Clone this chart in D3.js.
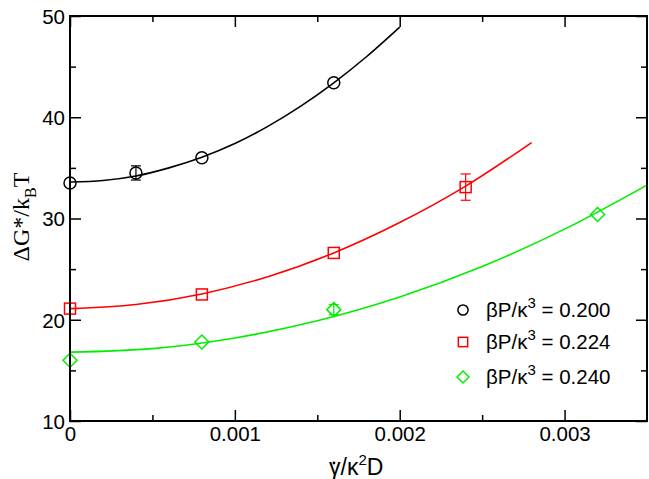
<!DOCTYPE html>
<html><head><meta charset="utf-8">
<script src="https://cdn.jsdelivr.net/npm/d3@7"></script>
<style>
body{margin:0;background:#fff;}
svg{display:block;font-family:"Liberation Sans",Arial,sans-serif;}
</style></head><body>
<svg id="c" width="649" height="479"></svg>
<script>
// ---- data ----
const seriesNames = ["0.200", "0.224", "0.240"];
const seriesColors = ["#000000", "#ff0000", "#00ee00"];
const seriesSymbols = ["circle", "square", "diamond"];
const xBlack = [0, 0.0004, 0.0008, 0.0016];
const yBlack = [33.5, 34.5, 36.0, 43.4];
const eBlack = [0, 0.7, 0, 0];
const xRed = [0, 0.0008, 0.0016, 0.0024];
const yRed = [21.1, 22.5, 26.6, 33.1];
const eRed = [0, 0, 0, 1.3];
const xGreen = [0, 0.0008, 0.0016, 0.0032];
const yGreen = [16.0, 17.8, 21.0, 30.4];
const eGreen = [0, 0, 0.5, 0];
// fitted curves
const fitXBlack = [0, 0.0002, 0.0004, 0.0006, 0.0008, 0.001, 0.0012, 0.0014, 0.0016, 0.0018, 0.002];
const fitYBlack = [33.6, 33.75, 34.2, 35.0, 36.05, 37.4, 39.1, 41.1, 43.4, 46.0, 48.9];
const fitXRed = [0, 0.0004, 0.0008, 0.0012, 0.0016, 0.002, 0.0024, 0.0028];
const fitYRed = [21.1, 21.5, 22.55, 24.25, 26.6, 29.6, 33.2, 37.5];
const fitXGreen = [0, 0.0005, 0.001, 0.0015, 0.002, 0.0025, 0.003, 0.0035];
const fitYGreen = [16.8, 17.15, 18.2, 19.9, 22.25, 25.25, 28.95, 33.3];
const xMajorTicks = [0, 0.001, 0.002, 0.003];
const xTickLabels = ["0", "0.001", "0.002", "0.003"];
const yMajorTicks = [10, 20, 30, 40, 50];

const series = [
  {name: seriesNames[0], color: seriesColors[0], sym: seriesSymbols[0], x: xBlack, y: yBlack, e: eBlack, fx: fitXBlack, fy: fitYBlack},
  {name: seriesNames[1], color: seriesColors[1], sym: seriesSymbols[1], x: xRed, y: yRed, e: eRed, fx: fitXRed, fy: fitYRed},
  {name: seriesNames[2], color: seriesColors[2], sym: seriesSymbols[2], x: xGreen, y: yGreen, e: eGreen, fx: fitXGreen, fy: fitYGreen}
];

const L = 70, R = 647, T = 16, B = 421;
const x = d3.scaleLinear().domain([0, 0.0035]).range([L, R]);
const y = d3.scaleLinear().domain([10, 50]).range([B, T]);
const svg = d3.select("#c");

svg.append("defs").append("clipPath").attr("id", "clip")
  .append("rect").attr("x", L).attr("y", T).attr("width", R - L).attr("height", B - T);

// curves
const line = d3.line().x(d => x(d[0])).y(d => y(d[1])).curve(d3.curveCatmullRom);
const g = svg.append("g").attr("clip-path", "url(#clip)");
series.forEach(s => {
  g.append("path").datum(s.fx.map((v, i) => [v, s.fy[i]]))
    .attr("d", line).attr("fill", "none").attr("stroke", s.color).attr("stroke-width", 1.6);
});

// markers
function drawSym(sel, sym, cx, cy, color, scale) {
  scale = scale || 1;
  if (sym === "circle") {
    sel.append("circle").attr("cx", cx).attr("cy", cy).attr("r", 6 * scale)
      .attr("fill", "none").attr("stroke", color).attr("stroke-width", 1.5);
  } else if (sym === "square") {
    const h = 5.5 * scale;
    sel.append("rect").attr("x", cx - h).attr("y", cy - h).attr("width", 2 * h).attr("height", 2 * h)
      .attr("fill", "none").attr("stroke", color).attr("stroke-width", 1.5);
  } else {
    const h = 7 * scale;
    sel.append("path").attr("d", `M${cx},${cy - h}L${cx + h},${cy}L${cx},${cy + h}L${cx - h},${cy}Z`)
      .attr("fill", "none").attr("stroke", color).attr("stroke-width", 1.5);
  }
}
series.forEach(s => {
  const gs = svg.append("g");
  s.x.forEach((xv, i) => {
    const cx = x(xv), cy = y(s.y[i]);
    if (s.e[i] > 0) {
      const y1 = y(s.y[i] + s.e[i]), y2 = y(s.y[i] - s.e[i]);
      gs.append("line").attr("x1", cx).attr("x2", cx).attr("y1", y1).attr("y2", y2).attr("stroke", s.color).attr("stroke-width", 1.2);
      [y1, y2].forEach(yy => gs.append("line").attr("x1", cx - 5).attr("x2", cx + 5).attr("y1", yy).attr("y2", yy).attr("stroke", s.color).attr("stroke-width", 1.2));
    }
    drawSym(gs, s.sym, cx, cy, s.color);
  });
});

// axes (ticks inward on all sides)
const fontSize = 20.5;
const axB = svg.append("g").attr("transform", `translate(0,${B})`)
  .call(d3.axisBottom(x).tickValues(xMajorTicks).tickSize(-11).tickPadding(5).tickFormat((d, i) => xTickLabels[i]));
const axBm = svg.append("g").attr("transform", `translate(0,${B})`)
  .call(d3.axisBottom(x).tickValues([0.0005, 0.0015, 0.0025]).tickSize(-6).tickFormat(""));
const axT = svg.append("g").attr("transform", `translate(0,${T})`)
  .call(d3.axisTop(x).tickValues(xMajorTicks).tickSize(-11).tickFormat(""));
const axTm = svg.append("g").attr("transform", `translate(0,${T})`)
  .call(d3.axisTop(x).tickValues([0.0005, 0.0015, 0.0025]).tickSize(-6).tickFormat(""));
const axL = svg.append("g").attr("transform", `translate(${L},0)`)
  .call(d3.axisLeft(y).tickValues(yMajorTicks).tickSize(-11).tickPadding(5).tickFormat(d3.format("d")));
const axLm = svg.append("g").attr("transform", `translate(${L},0)`)
  .call(d3.axisLeft(y).tickValues([15, 25, 35, 45]).tickSize(-6).tickFormat(""));
const axR = svg.append("g").attr("transform", `translate(${R},0)`)
  .call(d3.axisRight(y).tickValues(yMajorTicks).tickSize(-11).tickFormat(""));
const axRm = svg.append("g").attr("transform", `translate(${R},0)`)
  .call(d3.axisRight(y).tickValues([15, 25, 35, 45]).tickSize(-6).tickFormat(""));
[axB, axBm, axT, axTm, axL, axLm, axR, axRm].forEach(a => {
  a.select(".domain").remove();
  a.selectAll("line").attr("stroke", "#000").attr("stroke-width", 1.5);
  a.selectAll("text").attr("font-size", fontSize).attr("font-family", '"Liberation Sans",Arial,sans-serif').attr("fill", "#000");
});
axL.selectAll("text").attr("dy", "0.36em");

// frame
svg.append("rect").attr("x", L).attr("y", T).attr("width", R - L).attr("height", B - T)
  .attr("fill", "none").attr("stroke", "#000").attr("stroke-width", 2);

// x axis title
const xt = svg.append("text").attr("x", 329).attr("y", 475).attr("font-size", 23);
xt.append("tspan").text("γ/κ");
xt.append("tspan").attr("dy", -10).attr("font-size", 15).text("2");
xt.append("tspan").attr("dy", 10).text("D");
svg.append("circle").attr("cx", 334).attr("cy", 463).attr("r", 1.4).attr("fill", "#000");

// y axis title (serif)
const yt = svg.append("text").attr("transform", "translate(29,217) rotate(-90)")
  .attr("text-anchor", "middle").attr("font-size", 24).attr("font-family", '"Liberation Serif","Times New Roman",serif');
yt.append("tspan").text("ΔG*/k");
yt.append("tspan").attr("dy", 7).attr("font-size", 16).text("B");
yt.append("tspan").attr("dy", -7).text("T");

// legend
const legY = [310, 342, 377];
series.forEach((s, i) => {
  drawSym(svg, s.sym, 463, legY[i], s.color, 0.85);
  const t = svg.append("text").attr("x", 486).attr("y", legY[i] + 7).attr("font-size", fontSize);
  t.append("tspan").text("βP/κ");
  t.append("tspan").attr("dy", -9).attr("font-size", 15).text("3");
  t.append("tspan").attr("dy", 9).text(" = " + s.name);
});
</script>
</body></html>
